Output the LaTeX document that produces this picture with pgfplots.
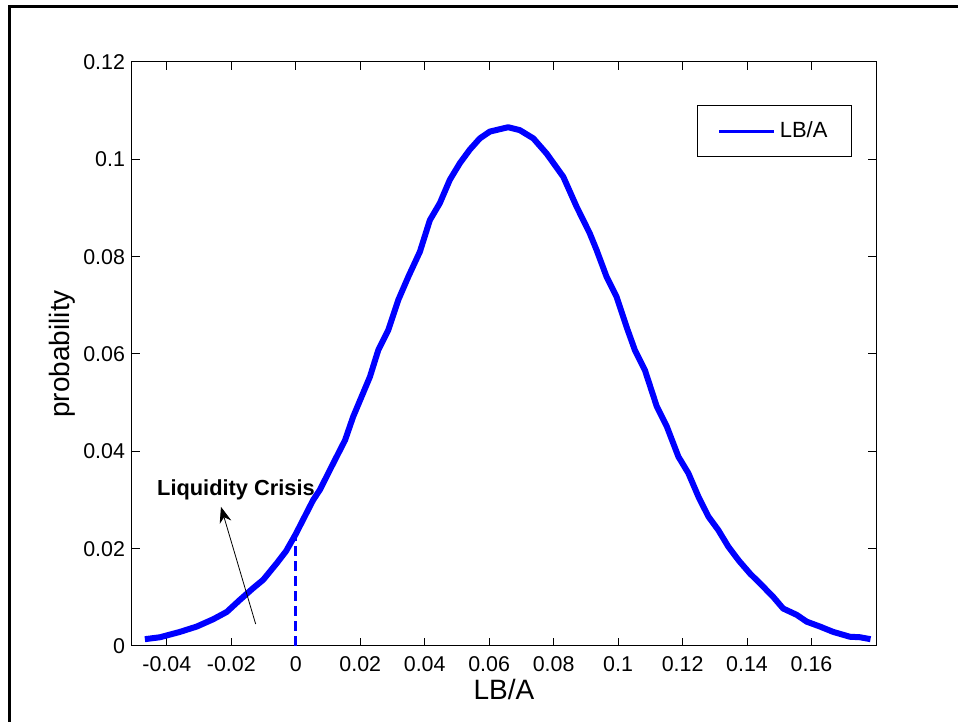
\documentclass[border=0pt]{standalone}
\usepackage{pgfplots}
\pgfplotsset{compat=1.18}
\usepackage{fontspec}
\setmainfont{Liberation Sans}
\usetikzlibrary{arrows.meta}
\pgfplotstableread{
x y
-0.0468 0.0014
-0.0421 0.0018
-0.0359 0.0029
-0.0307 0.0040
-0.0256 0.0055
-0.0214 0.0070
-0.0173 0.0095
-0.0132 0.0119
-0.0101 0.0136
-0.0059 0.0170
-0.0030 0.0195
0.0000 0.0230
0.0054 0.0300
0.0075 0.0321
0.0116 0.0375
0.0153 0.0423
0.0178 0.0471
0.0204 0.0512
0.0230 0.0553
0.0256 0.0608
0.0287 0.0649
0.0318 0.0711
0.0350 0.0760
0.0385 0.0810
0.0416 0.0875
0.0447 0.0910
0.0478 0.0958
0.0509 0.0992
0.0540 0.1020
0.0571 0.1043
0.0602 0.1057
0.0659 0.1066
0.0695 0.1060
0.0737 0.1043
0.0778 0.1012
0.0830 0.0964
0.0871 0.0903
0.0912 0.0848
0.0933 0.0814
0.0964 0.0759
0.0995 0.0718
0.1026 0.0656
0.1052 0.0608
0.1083 0.0567
0.1120 0.0492
0.1151 0.0451
0.1187 0.0389
0.1218 0.0355
0.1249 0.0307
0.1280 0.0266
0.1311 0.0238
0.1342 0.0204
0.1375 0.0175
0.1409 0.0149
0.1450 0.0122
0.1481 0.0101
0.1512 0.0077
0.1554 0.0064
0.1585 0.0050
0.1626 0.0040
0.1667 0.0029
0.1719 0.0019
0.1750 0.0018
0.1783 0.0014
}\lbdata
\begin{document}
\begin{tikzpicture}[x=1pt,y=1pt]
\path[use as bounding box] (0,0) rectangle (479,361);
\draw[line width=1.5pt] (4.5,0) -- (4.5,357.5) -- (479,357.5);
\begin{axis}[
  at={(66pt,38pt)}, anchor=south west,
  scale only axis, width=372pt, height=292pt,
  xmin=-0.0508, xmax=0.18, ymin=0, ymax=0.12,
  xtick={-0.04,-0.02,0,0.02,0.04,0.06,0.08,0.1,0.12,0.14,0.16},
  ytick={0,0.02,0.04,0.06,0.08,0.1,0.12},
  scaled ticks=false,
  /pgf/number format/fixed,
  /pgf/number format/precision=2,
  /pgf/number format/assume math mode=true,
  tick align=inside, major tick length=4pt,
  axis line style={line width=0.5pt},
  tick style={line width=0.5pt, black},
  tick label style={font=\fontsize{10.7}{12}\selectfont},
  xticklabel style={yshift=-1.5pt},
  xlabel={LB/A}, ylabel={probability},
  every axis x label/.style={at={(axis description cs:0.5,-0.0753)}, anchor=center, font=\fontsize{14}{16}\selectfont},
  every axis y label/.style={at={(axis description cs:-0.094,0.5)}, rotate=90, anchor=center, font=\fontsize{14}{16}\selectfont},
  legend style={at={(axis description cs:0.9677,0.926)}, anchor=north east,
    draw=black, line width=0.5pt, inner xsep=10pt, inner ysep=6pt,
    font=\fontsize{11}{13}\selectfont, cells={anchor=west}},
  legend image code/.code={\draw[blue, line width=1.5pt] (0pt,0pt) -- (27.5pt,0pt);},
]
\addplot[blue, line width=3pt, line join=round] table[x=x,y=y] {\lbdata};
\addlegendentry{LB/A}
\addplot[blue, line width=1.5pt, dash pattern=on 5pt off 2.5pt, forget plot] coordinates {(0,0) (0,0.0228)};
\draw[line width=0.4pt, -{Stealth[length=8pt,width=6pt]}] (axis cs:-0.01244,0.00452) -- (axis cs:-0.0232,0.0286);
\node[font=\bfseries\fontsize{10.9}{12}\selectfont] at (axis cs:-0.01855,0.0321) {Liquidity Crisis};
\end{axis}
\end{tikzpicture}
\end{document}
